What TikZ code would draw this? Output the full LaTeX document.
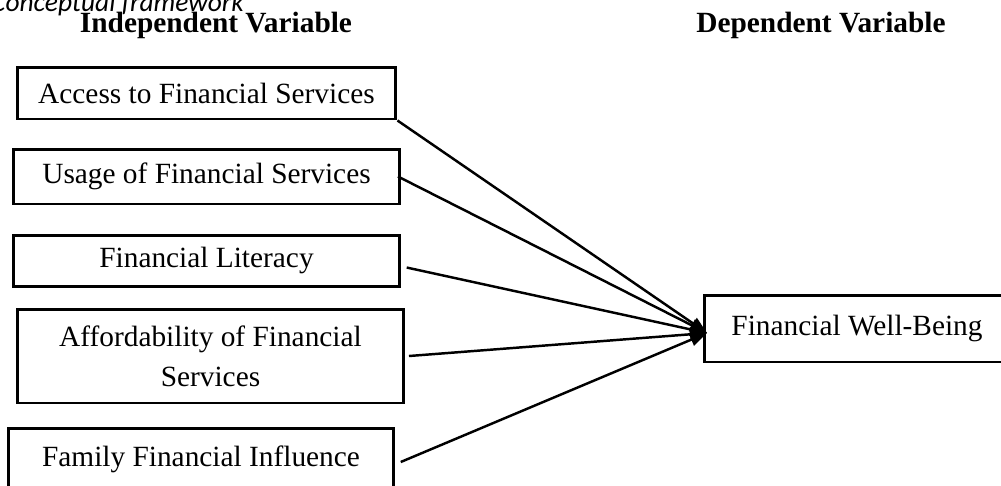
\documentclass[tikz,border=0pt]{standalone}
\usepackage{fontspec}
\setmainfont{Liberation Serif}
\newfontfamily\captionfont{Carlito}
\usetikzlibrary{arrows.meta}

\begin{document}
\begin{tikzpicture}[
    x=0.02cm, y=-0.02cm,
    var/.style = {draw, line width=1.7pt, align=center, inner sep=0pt,
      font=\fontsize{16.7}{22.8}\selectfont},
    link/.style = {line width=1.4pt, -{Triangle[length=0.34cm, width=0.26cm]}}
  ]
  \useasboundingbox (0,0) rectangle (1001,485);
  \clip (0,0) rectangle (1001,485);

  \node[anchor=base west, font=\captionfont\itshape\fontsize{15.6}{18}\selectfont] (caption) at (-15,11) {Conceptual framework};
  \node[anchor=base, font=\bfseries\fontsize{16.7}{20}\selectfont] (independent label) at (216,32) {Independent Variable};
  \node[anchor=base, font=\bfseries\fontsize{16.7}{20}\selectfont] (dependent label) at (821,32) {Dependent Variable};

  \node[var, minimum width=7.58cm, minimum height=1.04cm] (access) at (206.5,93) {Access to Financial Services};
  \node[var, minimum width=7.74cm, minimum height=1.10cm] (usage) at (206.5,176.5) {Usage of Financial Services};
  \node[var, minimum width=7.74cm, minimum height=1.02cm] (literacy) at (206.5,260.5) {Financial Literacy};
  \node[var, minimum width=7.74cm, minimum height=1.88cm] (affordability) at (210.5,356) {Affordability of Financial\\Services};
  \node[var, minimum width=7.72cm, anchor=north, text height=0.76cm, text depth=0.8cm] (family) at (201,427) {Family Financial Influence};

  \node[var, minimum width=6.12cm, minimum height=1.34cm] (wellbeing) at (857,328.5) {Financial Well-Being};
  \coordinate (tip) at (707,333);

  \draw[link] (access.south east)--(tip);
  \draw[link] ([xshift=-2pt]usage.east)--(tip);
  \draw[link] ([xshift=3pt, yshift=-4pt]literacy.east)--(tip);
  \draw[link] ([xshift=2pt]affordability.east)--(tip);
  \draw[link] ([xshift=3pt]family.east |- 0,462)--(tip);
\end{tikzpicture}
\end{document}
